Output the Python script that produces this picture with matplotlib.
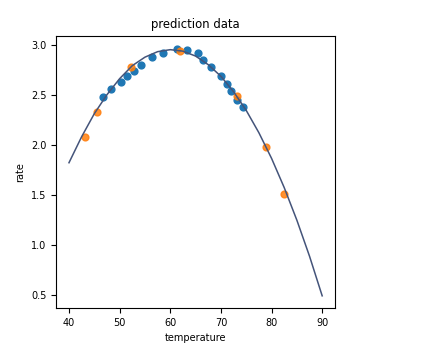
import matplotlib
matplotlib.use("Agg")
import matplotlib.pyplot as plt

# training points (blue)
train_temp = [46.7, 48.2, 50.2, 51.5, 52.8, 54.3, 56.3, 58.6, 61.3, 63.4,
              65.4, 66.5, 68.1, 70.0, 71.2, 72.0, 73.2, 74.3]
train_rate = [2.48, 2.56, 2.63, 2.69, 2.74, 2.80, 2.88, 2.92, 2.96, 2.95,
              2.92, 2.85, 2.78, 2.69, 2.61, 2.54, 2.45, 2.38]

# test points (orange)
test_temp = [43.2, 45.5, 52.3, 61.9, 73.2, 78.9, 82.4]
test_rate = [2.08, 2.33, 2.78, 2.94, 2.49, 1.98, 1.51]

# prediction curve
curve_temp = [40, 42.5, 45, 47.5, 50, 52.5, 55, 57.5, 60, 62.5, 65,
              67.5, 70, 72.5, 75, 77.5, 80, 82.5, 85, 87.5, 90]
curve_rate = [1.82, 2.08, 2.31, 2.50, 2.66, 2.79, 2.875, 2.93, 2.95, 2.935, 2.886,
              2.80, 2.684, 2.53, 2.343, 2.12, 1.864, 1.572, 1.246, 0.886, 0.49]

plt.rcParams['font.size'] = 7

fig = plt.figure(figsize=(4.4, 3.63), dpi=100)
ax = fig.add_axes([0.128, 0.151, 0.633, 0.749])

ax.scatter(train_temp, train_rate, s=24, color='#1f77b4', zorder=2)
ax.scatter(test_temp, test_rate, s=24, color='#ff7f0e', alpha=0.85, zorder=3)
ax.plot(curve_temp, curve_rate, color='#44547a', linewidth=1.1, zorder=4)

ax.set_title("prediction data")
ax.set_xlabel("temperature")
ax.set_ylabel("rate")
ax.set_xticks([40, 50, 60, 70, 80, 90])
ax.set_yticks([0.5, 1.0, 1.5, 2.0, 2.5, 3.0])

fig.savefig("out.png", dpi=100)
